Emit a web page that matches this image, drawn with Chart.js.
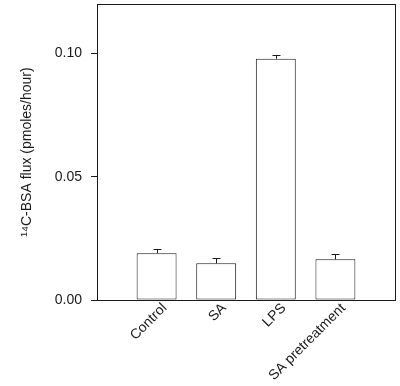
<!DOCTYPE html>
<html><head><meta charset="utf-8">
<script src="https://cdn.jsdelivr.net/npm/chart.js@4"></script>
<style>html,body{margin:0;padding:0;background:#fff}#w{width:400px;height:386px}</style>
</head><body><div id="w"><canvas id="c"></canvas></div>
<script>
const categories = ['', 'Control', 'SA', 'LPS', 'SA pretreatment', ''];
const fluxValues = [null, 0.0190, 0.0149, 0.0978, 0.0165, null];
const fluxErrors = [null, 0.0017, 0.0021, 0.0014, 0.0021, null];
const yTicks = [0, 0.05, 0.10];

const ink = '#1a1a1a';
const font = 'Liberation Sans, Arial, Helvetica, sans-serif';

const boxPlugin = {
  id: 'box',
  afterDatasetsDraw(chart) {
    const {ctx, chartArea: a, scales} = chart;
    ctx.save();
    ctx.strokeStyle = ink; ctx.lineWidth = 1;
    ctx.strokeRect(Math.round(a.left) + 0.5, Math.round(a.top) + 0.5,
                   Math.round(a.right - a.left), Math.round(a.bottom - a.top));
    const meta = chart.getDatasetMeta(0);
    meta.data.forEach((bar, i) => {
      const v = fluxValues[i], e = fluxErrors[i];
      if (v == null || e == null) return;
      const x = Math.round(bar.x) + 0.5;
      const y0 = scales.y.getPixelForValue(v);
      const y1 = Math.round(scales.y.getPixelForValue(v + e)) + 0.5;
      ctx.beginPath();
      ctx.moveTo(x, y0); ctx.lineTo(x, y1);
      ctx.moveTo(x - 4, y1); ctx.lineTo(x + 4, y1);
      ctx.stroke();
    });
    ctx.restore();
  }
};

new Chart(document.getElementById('c'), {
  type: 'bar',
  data: {
    labels: categories,
    datasets: [{
      data: fluxValues,
      backgroundColor: '#ffffff',
      borderColor: ink,
      borderWidth: 1,
      borderSkipped: false,
      categoryPercentage: 1,
      barPercentage: 0.67
    }]
  },
  options: {
    responsive: true,
    maintainAspectRatio: false,
    animation: false,
    layout: {padding: {left: 19, right: 5, top: 4, bottom: 0}},
    plugins: {legend: {display: false}, tooltip: {enabled: false}},
    scales: {
      x: {
        offset: false,
        grid: {display: false},
        border: {display: true, color: ink},
        ticks: {
          color: ink, font: {family: font, size: 14},
          maxRotation: 45, minRotation: 45, autoSkip: false, padding: -8, labelOffset: 8
        },
        afterFit(s) { s.height = 86; s.paddingLeft = 0; s.paddingRight = 0; }
      },
      y: {
        min: 0, max: 0.12,
        grid: {display: true, drawOnChartArea: false, drawTicks: true, tickLength: 6, color: ink},
        border: {display: true, color: ink},
        afterBuildTicks(s) { s.ticks = yTicks.map(v => ({value: v})); },
        ticks: {
          color: ink, font: {family: font, size: 14}, padding: 9,
          callback: v => v.toFixed(2)
        },
        title: {
          display: true, text: '¹⁴C-BSA flux (pmoles/hour)',
          color: ink, font: {family: font, size: 14}, padding: {top: 0, bottom: 4}
        },
        afterFit(s) { s.width = 78; s.paddingTop = 0; s.paddingBottom = 0; }
      }
    }
  },
  plugins: [boxPlugin]
});
</script></body></html>
